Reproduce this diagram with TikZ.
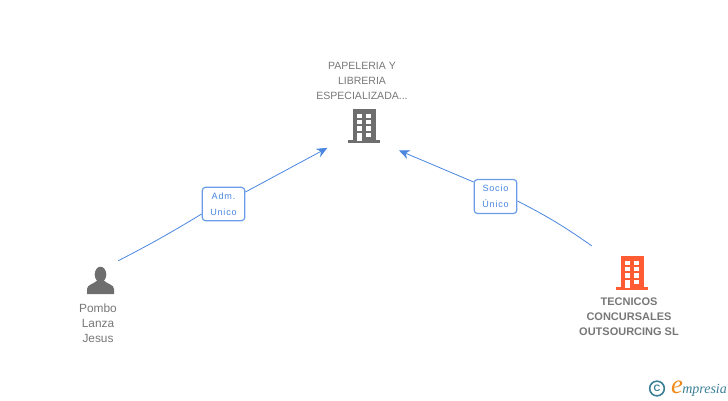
\documentclass[tikz,border=0pt]{standalone}
\usepackage{fontspec}
\setmainfont{Liberation Sans}
\newfontfamily\logofont{Liberation Serif}
\usetikzlibrary{positioning,arrows.meta}
\definecolor{linkblue}{HTML}{4A86E0}
\definecolor{boxblue}{HTML}{6A9CE8}
\definecolor{icongray}{HTML}{6E6E6E}
\definecolor{textgray}{HTML}{777777}
\definecolor{iconorange}{HTML}{FF5C33}
\definecolor{logoteal}{HTML}{3A7F96}
\definecolor{logoorange}{HTML}{F08A1D}
\tikzset{
  >={Stealth[length=8pt,width=7pt]},
  x=0.75pt,
  y=-0.75pt,
  iconspot/.style={circle, inner sep=0pt},
  caption/.style={
    font=\fontsize{7.9pt}{11.25pt}\selectfont,
    text=textgray,
    align=center,
    inner sep=0pt
  },
  rolebox/.style={
    draw=boxblue,
    line width=0.9pt,
    fill=white,
    rounded corners=2.5pt,
    align=center,
    inner sep=0pt,
    minimum width=32pt,
    font=\fontsize{6.8pt}{12pt}\selectfont\addfontfeature{LetterSpace=9},
    text=linkblue
  },
  link/.style={draw=linkblue, line width=0.6pt},
  buildingicon/.pic={
    \fill[pic actions] (-11.5,-16.5) rectangle (11.5,15);
    \fill[pic actions] (-16,14.5) rectangle (16,17);
    \foreach \wy in {-12,-6,0.5,7}
      \fill[white] (2,\wy) rectangle ++(5,4.7);
    \foreach \wy in {-12,-6,0.5}
      \fill[white] (-7.5,\wy) rectangle ++(5,4.7);
    \fill[white] (-7,7) rectangle (-2.5,15);
  }
}

\begin{document}
\begin{tikzpicture}
  \useasboundingbox (0,0) rectangle (728,400);

  % icons
  \pic[icongray, fill=icongray] at (364,125.5) {buildingicon};
  \pic[iconorange, fill=iconorange] at (632,272.5) {buildingicon};
  \fill[icongray] (100.5,274.5) ellipse (5.8 and 7.8);
  \fill[icongray] (87,294) -- (87,289) .. controls (87,284.5) and (94,284) .. (96.5,281)
    -- (104.5,281) .. controls (107,284) and (114,284.5) .. (114,289) -- (114,294) -- cycle;

  \node[iconspot, minimum size=64.5pt] (papeleria) at (364,125) {};
  \node[iconspot, minimum size=40.5pt] (pombo) at (100,281) {};
  \node[iconspot, minimum size=71.5pt] (tecnicos) at (632,272) {};

  \node[caption] (papeleriatxt) at (362,80.5) {PAPELERIA Y\\LIBRERIA\\ESPECIALIZADA...};
  \node[caption, font=\fontsize{8.9pt}{11.25pt}\selectfont] (pombotxt) at (98,323) {Pombo\\Lanza\\Jesus};
  \node[caption, font=\fontsize{8.25pt}{11.25pt}\selectfont\bfseries] (tecnicostxt) at (629,317)
    {TECNICOS\\CONCURSALES\\OUTSOURCING SL};

  \node[rolebox, minimum height=25pt] (adm) at (223.5,204) {Adm.\\Unico};
  \node[rolebox, minimum height=25.5pt] (socio) at (495.5,196.5) {Socio\\Único};

  \draw[link] (pombo.48) to[bend right=2] (adm.west |- 203,214);
  \draw[link, ->] (adm.east |- 245,192) -- (papeleria.-148);
  \draw[link] (tecnicos.147) to[bend right=4] (socio.east |- 517,201);
  \draw[link, ->] (socio.west |- 474,182) -- (papeleria.-36);

  % logo
  \node[circle, draw=logoteal, line width=1.2pt, minimum size=11pt, inner sep=0pt,
    text=logoteal, font=\fontsize{7pt}{7pt}\selectfont\bfseries] (copyr) at (657,388.5) {C};
  \node[inner sep=0pt, text=logoorange, font=\logofont\itshape\fontsize{20pt}{20pt}\selectfont] (logoe) at (677,387.5) {e};
  \node[inner sep=0pt, anchor=west, text=logoteal, font=\logofont\itshape\fontsize{10.5pt}{10pt}\selectfont] (logotxt) at (682,390) {mpresia};
\end{tikzpicture}
\end{document}
